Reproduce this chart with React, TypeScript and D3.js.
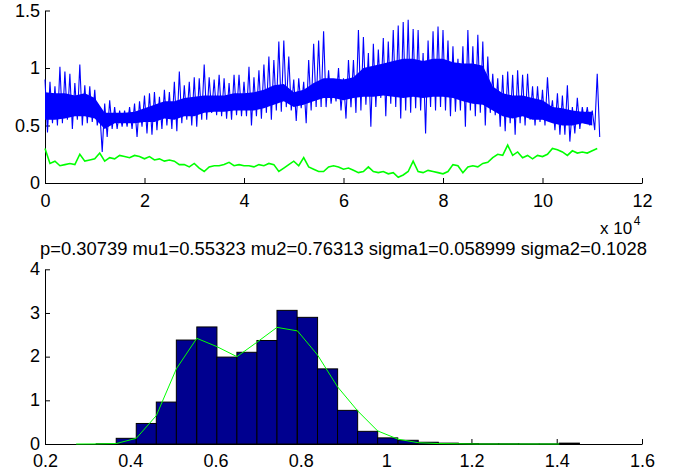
import { useEffect, useRef } from "react";
import * as d3 from "d3";

const W = 682;
const H = 474;
const FONT = "'Liberation Sans', Arial, Helvetica, sans-serif";

// ---- top panel: signal summarised per 1000 samples (peak / trough)
const STEP = 1000;
const BLUE_HI = [
  0.9, 0.88, 0.84, 1.01, 0.97, 0.95, 0.87, 1.03, 0.85, 0.84, 0.81, 0.63, 0.69, 0.72, 0.66, 0.63,
  0.63, 0.66, 0.69, 0.71, 0.76, 0.78, 0.79, 0.75, 0.81, 0.79, 0.88, 0.97, 0.85, 0.88, 0.92, 0.91,
  1.03, 0.92, 0.9, 0.94, 0.91, 0.87, 0.94, 0.94, 0.88, 1.01, 0.92, 0.98, 1.03, 1.1, 1.07, 1.23,
  1.24, 1.1, 0.9, 0.91, 0.88, 1.07, 1.21, 1.24,
  1.32, 0.98, 0.88, 1.0, 0.91, 1.07, 1.07, 1.33, 1.27, 1.13, 1.21, 1.16, 1.26, 1.23, 1.33, 1.37,
  1.4, 1.42, 1.34, 1.33, 1.13, 1.24, 1.32, 1.36, 1.33, 1.24, 1.19, 1.08, 1.19, 1.33, 1.19, 1.29,
  1.23, 1.1, 0.95, 0.91, 0.94, 0.97, 0.94, 0.98, 0.94, 0.95, 0.84, 0.84, 0.81, 0.92, 0.72, 0.78,
  0.76, 0.85, 0.66, 0.74, 0.66, 0.66, 0.63, 0.95,
];
const BLUE_LO = [
  0.44, 0.52, 0.5, 0.52, 0.55, 0.47, 0.55, 0.5, 0.52, 0.53, 0.5, 0.27, 0.4, 0.47, 0.47, 0.49,
  0.49, 0.47, 0.4, 0.49, 0.43, 0.42, 0.46, 0.47, 0.5, 0.47, 0.45, 0.52, 0.55, 0.5, 0.49, 0.55,
  0.55, 0.61, 0.59, 0.58, 0.56, 0.55, 0.59, 0.58, 0.58, 0.5, 0.58, 0.56, 0.61, 0.55, 0.63, 0.62,
  0.66, 0.63, 0.54, 0.65, 0.52, 0.63, 0.66, 0.66,
  0.66, 0.69, 0.71, 0.63, 0.56, 0.66, 0.61, 0.63, 0.68, 0.49, 0.66, 0.74, 0.58, 0.69, 0.66, 0.56,
  0.63, 0.61, 0.65, 0.63, 0.43, 0.66, 0.63, 0.66, 0.63, 0.58, 0.62, 0.63, 0.49, 0.63, 0.58, 0.61,
  0.5, 0.61, 0.59, 0.49, 0.45, 0.52, 0.42, 0.52, 0.5, 0.55, 0.5, 0.53, 0.5, 0.56, 0.46, 0.42,
  0.42, 0.36, 0.43, 0.47, 0.52, 0.5, 0.46, 0.4,
];
// solid body of the blue trace, per 2000 samples
const CORE_STEP = 2000;
const CORE_HI = [
  0.79, 0.78, 0.78, 0.76, 0.78, 0.74, 0.61, 0.61, 0.61, 0.62, 0.65, 0.68, 0.71, 0.71, 0.74, 0.75,
  0.76, 0.76, 0.76, 0.78, 0.78, 0.79, 0.81, 0.85, 0.86, 0.79, 0.81, 0.87, 0.91, 0.91, 0.9, 0.92,
  1.0, 1.02, 1.04, 1.06, 1.08, 1.08, 1.06, 1.08, 1.08, 1.05, 1.04, 1.04, 1.02, 0.84, 0.78, 0.76,
  0.76, 0.74, 0.72, 0.66, 0.65, 0.63, 0.62, 0.62,
];
const CORE_LO = [
  0.55, 0.55, 0.56, 0.58, 0.58, 0.56, 0.47, 0.52, 0.52, 0.52, 0.53, 0.53, 0.56, 0.55, 0.58, 0.58,
  0.61, 0.62, 0.62, 0.63, 0.63, 0.63, 0.65, 0.68, 0.71, 0.66, 0.68, 0.71, 0.74, 0.74, 0.72, 0.74,
  0.75, 0.75, 0.76, 0.75, 0.74, 0.75, 0.74, 0.75, 0.75, 0.74, 0.71, 0.69, 0.68, 0.63, 0.58, 0.56,
  0.58, 0.55, 0.55, 0.52, 0.5, 0.5, 0.52, 0.5,
];
const GREEN = [
  0.3, 0.17, 0.19, 0.15, 0.16, 0.17, 0.16, 0.25, 0.19, 0.2, 0.21, 0.26, 0.19, 0.22, 0.21, 0.24,
  0.23, 0.22, 0.24, 0.23, 0.21, 0.23, 0.2, 0.21, 0.19, 0.2, 0.19, 0.16, 0.16, 0.14, 0.17, 0.13,
  0.1, 0.14, 0.15, 0.15, 0.16, 0.18, 0.15, 0.16, 0.15, 0.15, 0.14, 0.16, 0.15, 0.17, 0.16, 0.1,
  0.13, 0.16, 0.19, 0.15, 0.22, 0.14, 0.12, 0.1,
  0.1, 0.14, 0.15, 0.14, 0.12, 0.13, 0.11, 0.09, 0.1, 0.14, 0.1, 0.09, 0.1, 0.08, 0.09, 0.05,
  0.07, 0.1, 0.19, 0.1, 0.09, 0.11, 0.1, 0.09, 0.08, 0.1, 0.16, 0.15, 0.09, 0.14, 0.15, 0.14,
  0.17, 0.18, 0.22, 0.25, 0.24, 0.33, 0.24, 0.27, 0.22, 0.24, 0.21, 0.24, 0.23, 0.25, 0.3, 0.29,
  0.27, 0.24, 0.28, 0.26, 0.27, 0.26, 0.28, 0.3,
];
const TOP_X_TICKS = [0, 2, 4, 6, 8, 10, 12]; // x 10^4
const TOP_Y_TICKS = [0, 0.5, 1, 1.5];

// ---- bottom panel: histogram (density) and mixture fit
const BIN_LEFT = [
  0.273, 0.32, 0.367, 0.414, 0.461, 0.508, 0.556, 0.603, 0.65, 0.697, 0.744, 0.792, 0.839,
  0.886, 0.933, 0.98, 1.028, 1.075, 1.122, 1.169, 1.217, 1.264, 1.311, 1.359, 1.406,
];
const BIN_WIDTH = 0.0472;
const DENSITY = [
  0, 0.005, 0.13, 0.47, 0.96, 2.38, 2.68, 1.99, 2.1, 2.37, 3.06, 2.9, 1.72, 0.77, 0.29, 0.14,
  0.085, 0.04, 0.02, 0.01, 0.005, 0.005, 0.003, 0.003, 0.02,
];
const FIT = [
  0, 0.002, 0.01, 0.13, 0.65, 1.72, 2.42, 2.23, 2.0, 2.33, 2.67, 2.59, 2.04, 1.31, 0.76, 0.3,
  0.11, 0.03, 0.01, 0.005, 0, 0, 0, 0, 0,
];
const BOT_X_TICKS = [0.2, 0.4, 0.6, 0.8, 1, 1.2, 1.4, 1.6];
const BOT_Y_TICKS = [0, 1, 2, 3, 4];

const TITLE = "p=0.30739 mu1=0.55323 mu2=0.76313 sigma1=0.058999 sigma2=0.1028";

function styleAxis(g) {
  g.attr("font-family", FONT).attr("font-size", 18);
  g.selectAll("path, line").attr("stroke", "#000");
  g.selectAll("text").attr("fill", "#000");
}

export default function App() {
  const svgRef = useRef(null);

  useEffect(() => {
    const svg = d3.select(svgRef.current);
    svg.selectAll("*").remove();

    // ---------- top panel
    const x1 = d3.scaleLinear().domain([0, 120000]).range([45, 642]);
    const y1 = d3.scaleLinear().domain([0, 1.5]).range([183, 10.5]);

    svg
      .append("g")
      .attr("transform", `translate(0,${y1(0)})`)
      .call(
        d3
          .axisBottom(x1)
          .tickValues(TOP_X_TICKS.map((t) => t * 1e4))
          .tickFormat((d) => String(d / 1e4))
          .tickSizeInner(-5)
          .tickSizeOuter(0)
          .tickPadding(11.5)
      )
      .call(styleAxis);

    svg
      .append("g")
      .attr("transform", `translate(${x1(0)},0)`)
      .call(
        d3.axisLeft(y1).tickValues(TOP_Y_TICKS).tickFormat(d3.format("")).tickSizeInner(-5).tickSizeOuter(0).tickPadding(5)
      )
      .call(styleAxis);

    const core = CORE_HI.map((h, i) => ({ x: i * CORE_STEP, hi: h, lo: CORE_LO[i] }));
    svg
      .append("path")
      .datum(core)
      .attr("fill", "#0000ff")
      .attr(
        "d",
        d3
          .area()
          .x((d) => x1(d.x))
          .y0((d) => y1(d.lo))
          .y1((d) => y1(d.hi))
      );

    const zig = [];
    BLUE_HI.forEach((h, i) => {
      zig.push([i * STEP, h]);
      zig.push([i * STEP + STEP / 2, BLUE_LO[i]]);
    });
    svg
      .append("path")
      .datum(zig)
      .attr("fill", "none")
      .attr("stroke", "#0000ff")
      .attr("stroke-width", 1.1)
      .attr(
        "d",
        d3
          .line()
          .x((d) => x1(d[0]))
          .y((d) => y1(d[1]))
      );

    svg
      .append("path")
      .datum(GREEN)
      .attr("fill", "none")
      .attr("stroke", "#00ff00")
      .attr("stroke-width", 1.6)
      .attr(
        "d",
        d3
          .line()
          .x((d, i) => x1(i * STEP))
          .y((d) => y1(d))
      );

    // exponent label under the x axis end
    const exp = svg
      .append("text")
      .attr("x", 600)
      .attr("y", 234)
      .attr("font-family", FONT)
      .attr("font-size", 17)
      .attr("fill", "#000");
    exp.append("tspan").text("x 10");
    exp.append("tspan").attr("font-size", 12).attr("dy", -9).attr("dx", 1.5).text("4");

    svg
      .append("text")
      .attr("x", (x1.range()[0] + x1.range()[1]) / 2)
      .attr("y", 255)
      .attr("text-anchor", "middle")
      .attr("font-family", FONT)
      .attr("font-size", 18.4)
      .attr("fill", "#000")
      .text(TITLE);

    // ---------- bottom panel
    const x2 = d3.scaleLinear().domain([0.2, 1.6]).range([45, 642]);
    const y2 = d3.scaleLinear().domain([0, 4]).range([444, 269.3]);

    svg
      .append("g")
      .attr("transform", `translate(0,${y2(0)})`)
      .call(
        d3
          .axisBottom(x2)
          .tickValues(BOT_X_TICKS)
          .tickFormat(d3.format(""))
          .tickSizeInner(-5)
          .tickSizeOuter(0)
          .tickPadding(10.5)
      )
      .call(styleAxis);

    svg
      .append("g")
      .attr("transform", `translate(${x2(0.2)},0)`)
      .call(
        d3.axisLeft(y2).tickValues(BOT_Y_TICKS).tickFormat(d3.format("")).tickSizeInner(-5).tickSizeOuter(0).tickPadding(5)
      )
      .call(styleAxis)
      .call((g) => g.selectAll("text").attr("dy", "0.28em"));

    const bins = BIN_LEFT.map((l, i) => ({ l, v: DENSITY[i] }));
    svg
      .append("g")
      .selectAll("rect")
      .data(bins)
      .join("rect")
      .attr("x", (d) => x2(d.l))
      .attr("width", (d) => x2(d.l + BIN_WIDTH) - x2(d.l))
      .attr("y", (d) => y2(d.v))
      .attr("height", (d) => y2(0) - y2(d.v))
      .attr("fill", "#00008f")
      .attr("stroke", "#000")
      .attr("stroke-width", 1);

    svg
      .append("path")
      .datum(FIT)
      .attr("fill", "none")
      .attr("stroke", "#00ff00")
      .attr("stroke-width", 1)
      .attr(
        "d",
        d3
          .line()
          .x((d, i) => x2(BIN_LEFT[i]))
          .y((d) => y2(d))
      );
  }, []);

  return (
    <svg
      ref={svgRef}
      width={W}
      height={H}
      style={{ position: "absolute", left: 0, top: 0, background: "#fff" }}
    />
  );
}
